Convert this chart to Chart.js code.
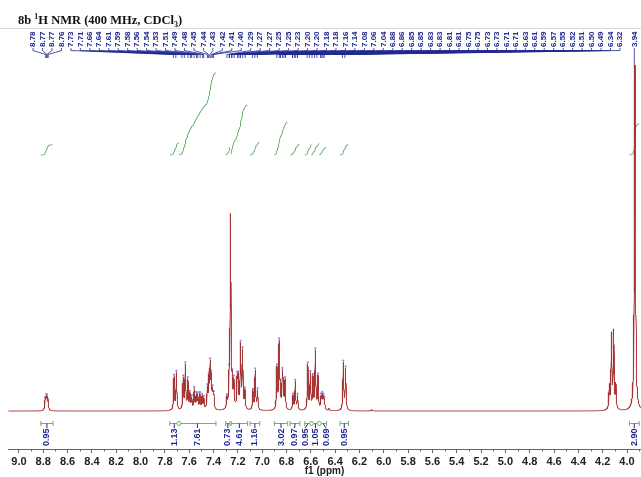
<!DOCTYPE html>
<html>
<head>
<meta charset="utf-8">
<script src="https://cdn.jsdelivr.net/npm/chart.js@4.4.0/dist/chart.umd.min.js"></script>
<style>
html, body { margin: 0; padding: 0; background: #fff; }
</style>
</head>
<body>
<canvas id="nmr" width="641" height="477"></canvas>
<script>
// axis range (ppm)
var ppmLow = 3.885;
var ppmHigh = 9.09;

// lines of the spectrum: shift (ppm) and height above baseline
var peakPpm = [8.785, 8.777, 8.769, 8.760,
    7.725, 7.705, 7.650, 7.632, 7.611, 7.594, 7.580, 7.559, 7.543, 7.530, 7.512, 7.494, 7.480,
    7.451, 7.439, 7.428, 7.418, 7.407, 7.398,
    7.290, 7.272, 7.260, 7.246, 7.233, 7.206, 7.198, 7.178, 7.161, 7.142,
    7.076, 7.057, 7.038,
    6.879, 6.861, 6.852, 6.834, 6.827, 6.812,
    6.747, 6.728, 6.709,
    6.625, 6.604, 6.583, 6.563, 6.541, 6.516, 6.506, 6.496, 6.488,
    6.452, 6.333, 6.314, 6.100,
    4.146, 4.128, 4.110, 4.092, 3.935];
var peakHeight = [9, 11, 11, 8,
    33, 37, 31, 44, 29, 15, 11, 20, 14, 14, 15, 13, 11,
    20, 28, 42, 29, 16, 13,
    10, 24, 192, 22, 26, 28, 28, 63, 57, 18,
    18, 39, 19,
    41, 65, 16, 33, 20, 29,
    14, 28, 14,
    45, 35, 31, 58, 33, 12, 13, 11, 9,
    2, 47, 41, 1.5,
    23, 74, 77, 24, 480];

// peak-picking labels
var pickLabels = [8.78, 8.77, 8.77, 8.76, 7.73, 7.71, 7.66, 7.64, 7.61, 7.59, 7.58, 7.56, 7.54, 7.53,
    7.51, 7.49, 7.48, 7.45, 7.44, 7.43, 7.42, 7.41, 7.40, 7.29, 7.27, 7.27, 7.25, 7.25, 7.23,
    7.20, 7.20, 7.18, 7.18, 7.16, 7.14, 7.08, 7.06, 7.04, 6.88, 6.86, 6.85, 6.85, 6.83, 6.83,
    6.81, 6.81, 6.75, 6.75, 6.73, 6.73, 6.71, 6.71, 6.63, 6.61, 6.59, 6.57, 6.55, 6.52, 6.51,
    6.50, 6.49, 6.34, 6.32, 3.94];

// integral regions
var intFrom = [8.82, 7.76, 7.685, 7.30, 7.255, 7.10, 6.90, 6.77, 6.65, 6.595, 6.53, 6.36, 3.98];
var intTo = [8.72, 7.685, 7.38, 7.265, 7.12, 7.02, 6.79, 6.69, 6.595, 6.53, 6.47, 6.29, 3.90];
var intValue = [0.95, 1.13, 7.61, 0.73, 4.61, 1.16, 3.02, 0.97, 0.95, 1.05, 0.69, 0.95, 2.90];

var lineHw = 0.004;
var step = 0.001;

function spec(p) {
    var s = 0;
    for (var k = 0; k < peakPpm.length; k++) {
        var d = p - peakPpm[k];
        s += peakHeight[k] * lineHw * lineHw / (d * d + lineHw * lineHw);
    }
    return s;
}

var spectrum = [];
for (var i = 0; ppmLow + i * step <= ppmHigh; i++) {
    var p = ppmLow + i * step;
    spectrum.push({ x: p, y: spec(p) });
}

// integral curves, rising left to right (high ppm to low ppm)
var intBase = 256;
var intScale = 10.8;
var integralSets = intFrom.map(function(from, r) {
    var pts = spectrum.filter(function(pt) { return pt.x <= from && pt.x >= intTo[r]; }).reverse();
    var total = pts.reduce(function(a, pt) { return a + pt.y; }, 0);
    var run = 0;
    var data = pts.map(function(pt) {
        run += pt.y;
        return { x: pt.x, y: intBase + run / total * intValue[r] * intScale };
    });
    return {
        data: data, borderColor: '#6cb36c', borderWidth: 1, pointRadius: 0, tension: 0
    };
});

// markers at picked maxima
var markers = [];
peakPpm.forEach(function(p, k) {
    if (p > 6.3 && p < 8.8 && p !== 7.260 && p !== 6.452 && p !== 6.100) {
        markers.push({ x: p, y: spec(p) + 1.5 });
    }
});

// spread labels so they keep a minimum gap, clamped to [lo, hi]
function spread(pos, gap, lo, hi) {
    var groups = pos.map(function(p, i) { return { first: i, n: 1, sum: p }; });
    function place(g) {
        var s = g.sum / g.n - (g.n - 1) * gap / 2;
        return Math.max(lo, Math.min(hi - (g.n - 1) * gap, s));
    }
    var again = true;
    while (again) {
        again = false;
        for (var i = 0; i < groups.length - 1; i++) {
            var a = groups[i], b = groups[i + 1];
            if (place(b) - (place(a) + (a.n - 1) * gap) < gap - 0.01) {
                a.n += b.n; a.sum += b.sum;
                groups.splice(i + 1, 1);
                again = true;
                break;
            }
        }
    }
    var out = [];
    groups.forEach(function(g) {
        var s = place(g);
        for (var j = 0; j < g.n; j++) out.push(s + j * gap);
    });
    return out;
}

var decor = {
    id: 'decor',
    beforeDraw: function(chart) {
        var ctx = chart.ctx;
        ctx.save();
        ctx.fillStyle = '#fff';
        ctx.fillRect(0, 0, chart.width, chart.height);
        ctx.restore();
    },
    afterDatasetsDraw: function(chart) {
        var ctx = chart.ctx, xs = chart.scales.x, area = chart.chartArea;
        ctx.save();

        // title
        ctx.fillStyle = '#111';
        ctx.textBaseline = 'alphabetic';
        var tx = 18, ty = 24;
        function seg(t, size, dy) {
            ctx.font = 'bold ' + size + 'px "Liberation Serif", "Times New Roman", serif';
            ctx.fillText(t, tx, ty + dy);
            tx += ctx.measureText(t).width;
        }
        seg('8b ', 12.5, 0);
        seg('1', 8, -5);
        seg('H NMR (400 MHz, CDCl', 12.5, 0);
        seg('3', 8, 3);
        seg(')', 12.5, 0);

        // frame line above the peak labels
        ctx.strokeStyle = '#d8d8d8';
        ctx.lineWidth = 1;
        ctx.beginPath();
        ctx.moveTo(0, 28.5);
        ctx.lineTo(chart.width, 28.5);
        ctx.stroke();

        // peak labels
        var navy = '#1f2a8f';
        var px = pickLabels.map(function(v) { return xs.getPixelForValue(v); });
        var lx = spread(px, (620 - 33) / 62, 33, 638);
        ctx.strokeStyle = navy;
        ctx.fillStyle = navy;
        ctx.lineWidth = 0.8;
        ctx.font = 'bold 8px "Liberation Sans", Arial, sans-serif';
        pickLabels.forEach(function(v, i) {
            ctx.beginPath();
            ctx.moveTo(lx[i], 48);
            ctx.lineTo(lx[i], 50.5);
            ctx.lineTo(px[i], 54.5);
            ctx.lineTo(px[i], v < 5 ? area.top : 58);
            ctx.stroke();
            ctx.save();
            ctx.translate(lx[i], 47);
            ctx.rotate(-Math.PI / 2);
            ctx.textAlign = 'left';
            ctx.textBaseline = 'middle';
            ctx.fillText(v.toFixed(2), 0, 0);
            ctx.restore();
        });

        // integral brackets and values
        var green = '#6cb36c';
        var by = 423.5;
        var bx = intFrom.map(function(f, r) {
            return (xs.getPixelForValue(f) + xs.getPixelForValue(intTo[r])) / 2;
        });
        var ix = spread(bx, 10.5, 0, chart.width);
        intFrom.forEach(function(f, r) {
            var a = xs.getPixelForValue(f), b = xs.getPixelForValue(intTo[r]);
            ctx.strokeStyle = green;
            ctx.lineWidth = 1;
            ctx.beginPath();
            ctx.moveTo(a, by); ctx.lineTo(b, by);
            ctx.moveTo(a, by - 2.5); ctx.lineTo(a, by + 2.5);
            ctx.moveTo(b, by - 2.5); ctx.lineTo(b, by + 2.5);
            ctx.stroke();
            ctx.strokeStyle = navy;
            ctx.beginPath();
            ctx.moveTo(bx[r], by);
            ctx.lineTo(ix[r], 428);
            ctx.stroke();
            ctx.save();
            ctx.fillStyle = navy;
            ctx.font = 'bold 9px "Liberation Sans", Arial, sans-serif';
            ctx.translate(ix[r], 446);
            ctx.rotate(-Math.PI / 2);
            ctx.textAlign = 'left';
            ctx.textBaseline = 'middle';
            ctx.fillText(intValue[r].toFixed(2), 0, 0);
            ctx.restore();
        });
        // joints where regions meet
        for (var r = 0; r < intFrom.length - 1; r++) {
            if (Math.abs(intTo[r] - intFrom[r + 1]) < 0.002) {
                var jx = xs.getPixelForValue(intTo[r]);
                ctx.beginPath();
                ctx.arc(jx, by, 2, 0, Math.PI * 2);
                ctx.fillStyle = '#fff';
                ctx.fill();
                ctx.strokeStyle = green;
                ctx.stroke();
            }
        }

        // minor ticks
        ctx.strokeStyle = '#666';
        ctx.lineWidth = 1;
        ctx.beginPath();
        for (var t = 39; t <= 90; t++) {
            if (t % 2 === 0) continue;
            var mx = Math.round(xs.getPixelForValue(t / 10)) + 0.5;
            ctx.moveTo(mx, area.bottom);
            ctx.lineTo(mx, area.bottom + 2.5);
        }
        ctx.stroke();
        ctx.restore();
    }
};

new Chart(document.getElementById('nmr'), {
    type: 'line',
    data: {
        datasets: [{
            data: spectrum,
            borderColor: '#a63232',
            borderWidth: 1,
            pointRadius: 0,
            tension: 0
        }].concat(integralSets).concat([{
            type: 'scatter',
            data: markers,
            pointStyle: 'rect',
            pointRadius: 1.3,
            pointHoverRadius: 1.3,
            backgroundColor: '#7d80dc',
            borderWidth: 0
        }])
    },
    options: {
        responsive: false,
        animation: false,
        parsing: false,
        normalized: true,
        devicePixelRatio: 1,
        layout: { autoPadding: false, padding: { top: 65, left: 8, right: 0, bottom: 0 } },
        plugins: { legend: { display: false }, tooltip: { enabled: false } },
        scales: {
            x: {
                type: 'linear',
                reverse: true,
                min: ppmLow,
                max: ppmHigh,
                afterFit: function(s) {
                    s.height = 28;
                    s.paddingLeft = 0;
                    s.paddingRight = 0;
                },
                border: { display: true, color: '#666', width: 1 },
                grid: { drawOnChartArea: false, tickLength: 4, color: '#666' },
                ticks: {
                    stepSize: 0.2,
                    includeBounds: false,
                    autoSkip: false,
                    maxRotation: 0,
                    padding: 2,
                    color: '#222',
                    font: { family: '"Liberation Sans", Arial, sans-serif', size: 11, weight: 'bold' },
                    callback: function(v) { return v.toFixed(1); }
                },
                title: {
                    display: true,
                    text: 'f1 (ppm)',
                    color: '#222',
                    padding: 0,
                    font: { family: '"Liberation Sans", Arial, sans-serif', size: 10, weight: 'bold' }
                }
            },
            y: {
                display: false,
                min: -38,
                max: 346
            }
        }
    },
    plugins: [decor]
});
</script>
</body>
</html>
